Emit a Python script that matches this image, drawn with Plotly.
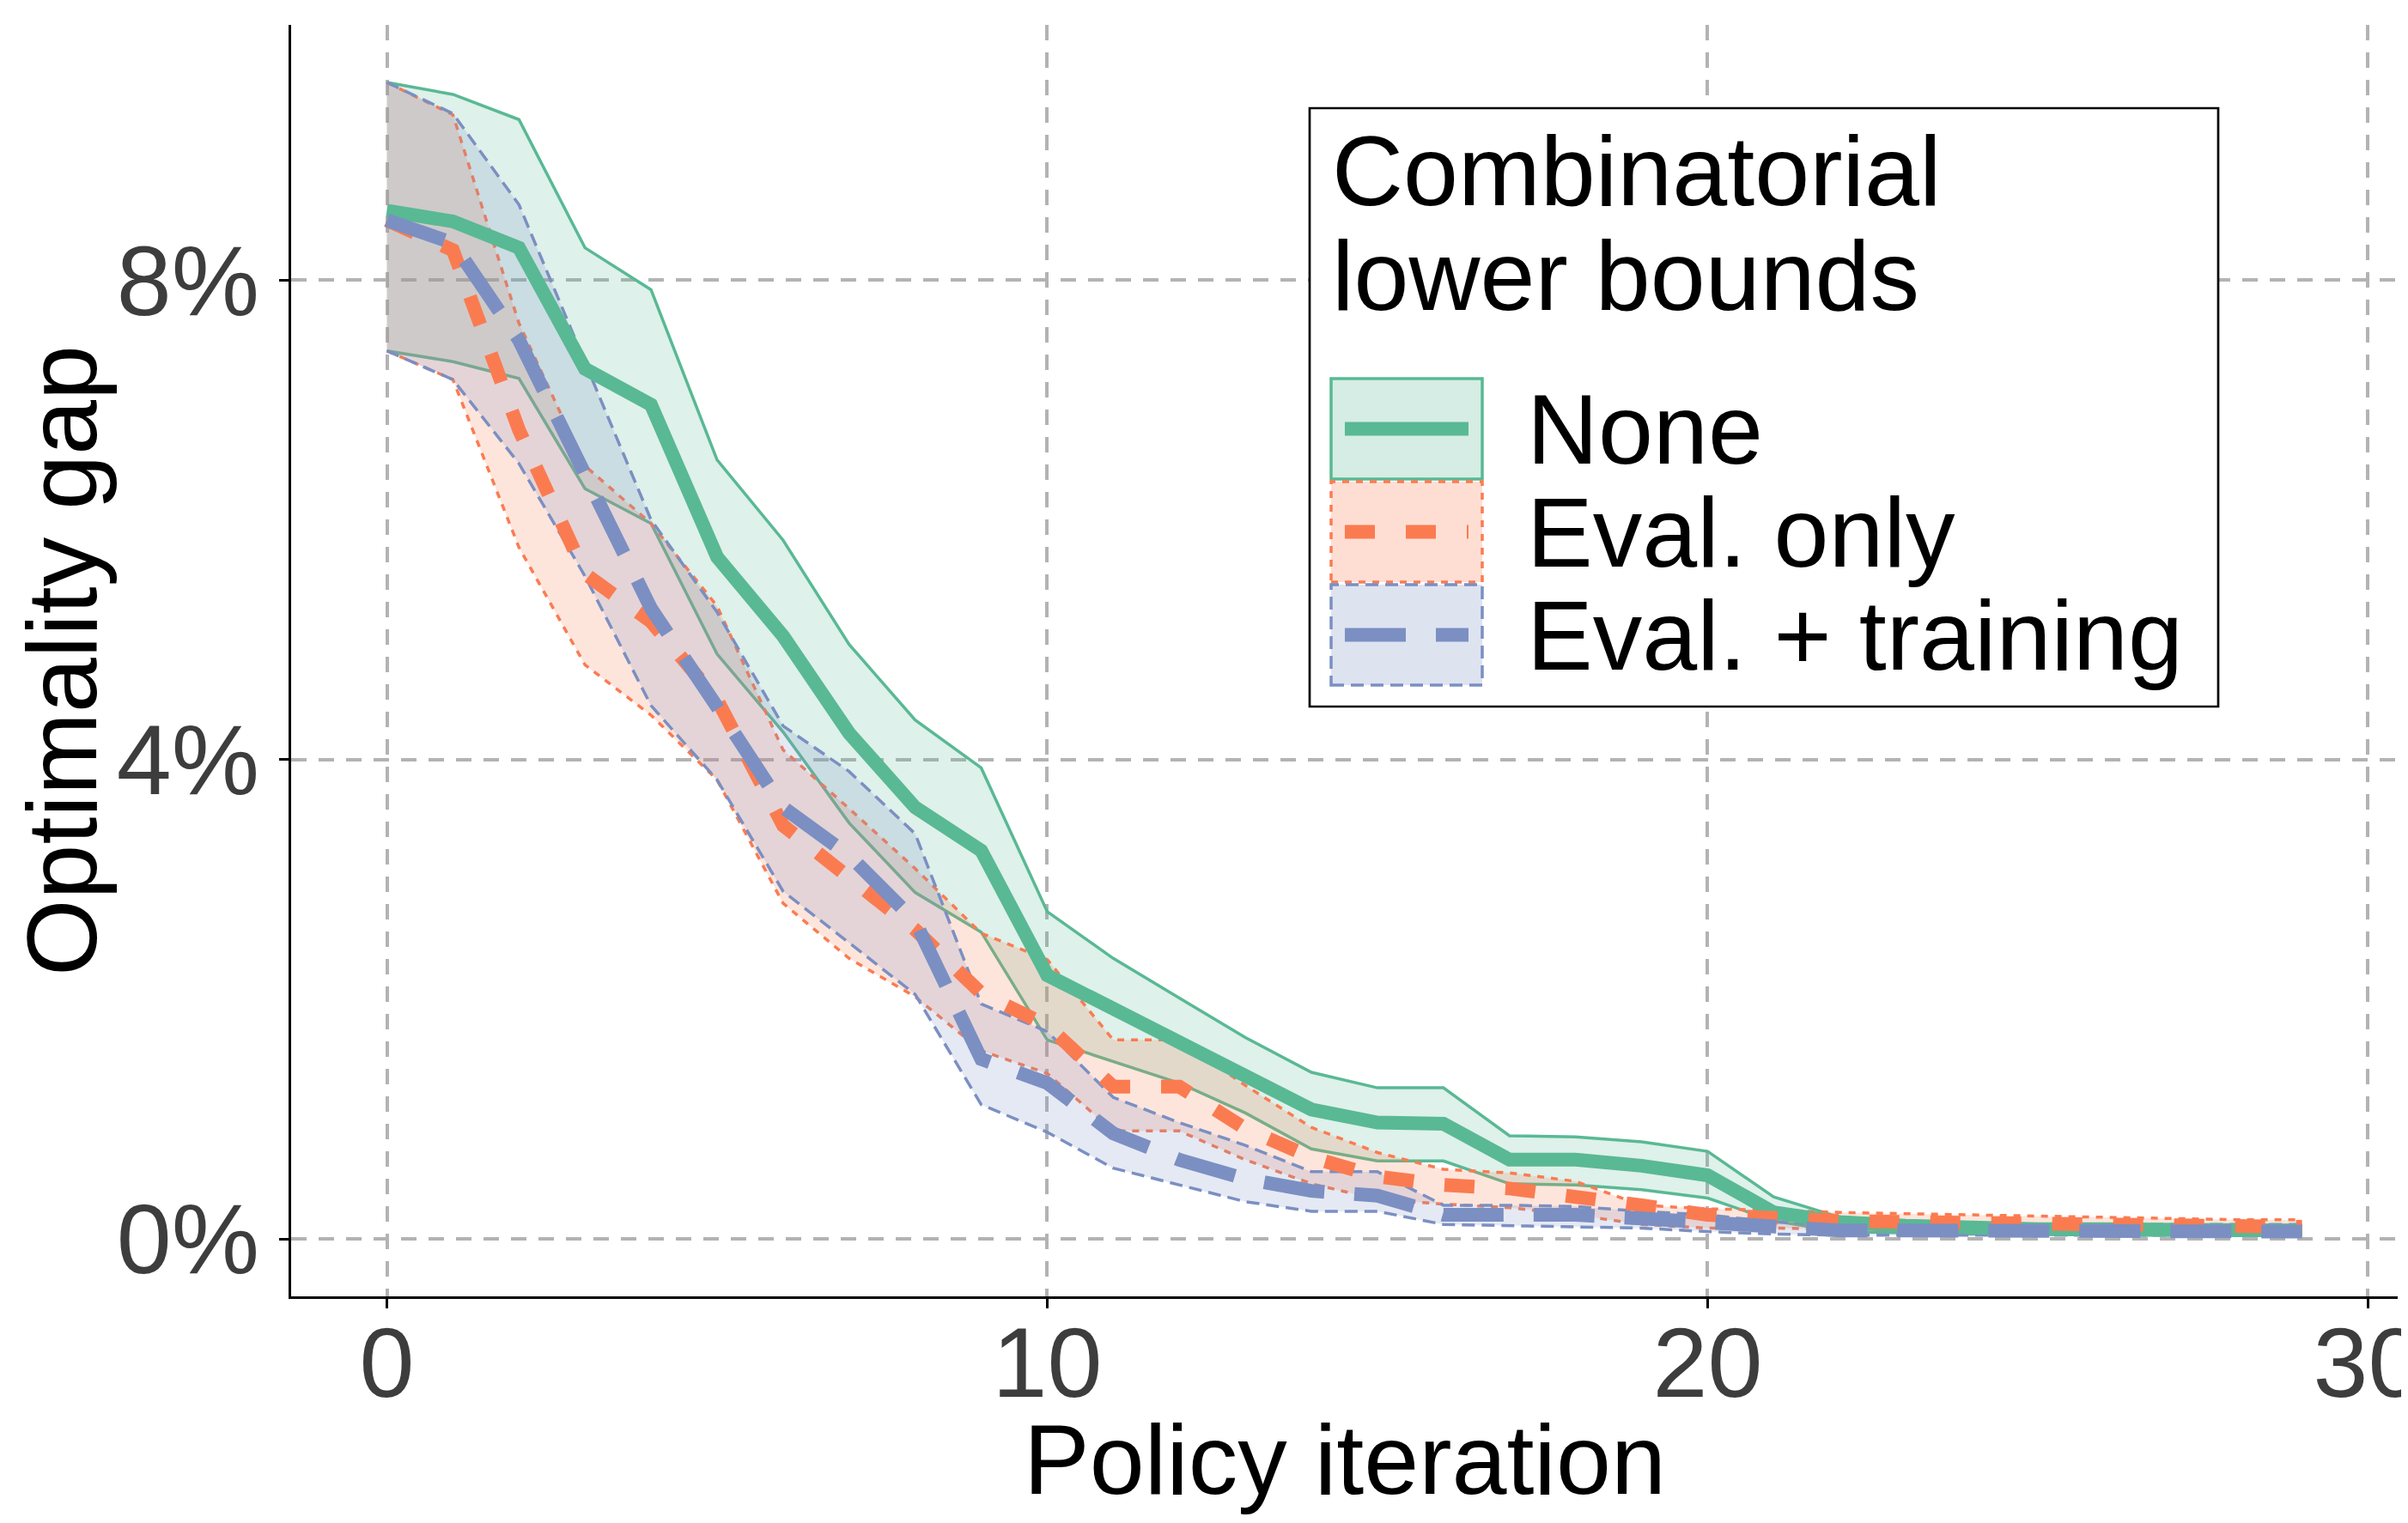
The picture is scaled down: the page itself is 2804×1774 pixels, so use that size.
import plotly.graph_objects as go

# policy iterations 0..29
iterations = list(range(30))

# optimality gap in %
none_mean = [8.58, 8.49, 8.27, 7.26, 6.96, 5.69, 5.03, 4.22, 3.60, 3.24,
             2.20, 1.92, 1.65, 1.35, 1.08, 0.97, 0.96, 0.66, 0.66, 0.61,
             0.53, 0.22, 0.14, 0.11, 0.09, 0.08, 0.08, 0.07, 0.07, 0.07]
none_upper = [9.65, 9.55, 9.34, 8.27, 7.92, 6.50, 5.83, 4.96, 4.33, 3.93,
              2.73, 2.34, 2.01, 1.68, 1.39, 1.26, 1.26, 0.86, 0.85, 0.81,
              0.73, 0.35, 0.18, 0.15, 0.13, 0.12, 0.11, 0.11, 0.10, 0.10]
none_lower = [7.41, 7.32, 7.18, 6.26, 5.97, 4.88, 4.23, 3.47, 2.89, 2.56,
              1.66, 1.48, 1.30, 1.05, 0.75, 0.65, 0.65, 0.46, 0.45, 0.41,
              0.34, 0.15, 0.06, 0.05, 0.04, 0.04, 0.03, 0.03, 0.03, 0.03]

eval_mean = [8.50, 8.25, 6.75, 5.55, 5.15, 4.50, 3.45, 3.00, 2.58, 2.05,
             1.78, 1.27, 1.27, 0.92, 0.68, 0.52, 0.45, 0.42, 0.36, 0.28,
             0.20, 0.17, 0.15, 0.14, 0.13, 0.12, 0.11, 0.11, 0.10, 0.10]
eval_upper = [9.65, 9.38, 7.64, 6.45, 5.97, 5.28, 4.08, 3.59, 3.09, 2.55,
              2.33, 1.66, 1.66, 1.28, 0.93, 0.72, 0.58, 0.55, 0.48, 0.28,
              0.25, 0.24, 0.22, 0.21, 0.20, 0.19, 0.18, 0.17, 0.16, 0.16]
eval_lower = [7.41, 7.17, 5.77, 4.79, 4.37, 3.83, 2.80, 2.34, 2.02, 1.57,
              1.38, 0.90, 0.90, 0.66, 0.46, 0.33, 0.29, 0.26, 0.20, 0.12,
              0.09, 0.09, 0.08, 0.07, 0.07, 0.06, 0.06, 0.05, 0.05, 0.05]

train_mean = [8.50, 8.31, 7.50, 6.40, 5.26, 4.44, 3.60, 3.20, 2.65, 1.50,
              1.30, 0.88, 0.66, 0.50, 0.40, 0.36, 0.20, 0.20, 0.20, 0.17,
              0.14, 0.09, 0.07, 0.07, 0.07, 0.06, 0.06, 0.06, 0.06, 0.06]
train_upper = [9.65, 9.39, 8.63, 7.32, 6.00, 5.23, 4.28, 3.90, 3.38, 1.96,
               1.73, 1.18, 0.97, 0.78, 0.56, 0.56, 0.28, 0.28, 0.27, 0.23,
               0.20, 0.14, 0.12, 0.12, 0.12, 0.12, 0.12, 0.12, 0.12, 0.12]
train_lower = [7.41, 7.17, 6.47, 5.53, 4.45, 3.83, 2.90, 2.47, 2.04, 1.12,
               0.89, 0.59, 0.45, 0.31, 0.23, 0.23, 0.12, 0.11, 0.10, 0.09,
               0.06, 0.04, 0.03, 0.03, 0.03, 0.03, 0.03, 0.03, 0.03, 0.03]

labels = ["None", "Eval. only", "Eval. + training"]
legend_title = ["Combinatorial", "lower bounds"]
x_ticks = [0, 10, 20, 30]
y_ticks = [0, 4, 8]

groups = [
    dict(name=labels[0], mean=none_mean, upper=none_upper, lower=none_lower,
         color="#59b994", rgb="89,185,148", dash="solid", bdash="solid"),
    dict(name=labels[1], mean=eval_mean, upper=eval_upper, lower=eval_lower,
         color="#fb7b51", rgb="251,123,81", dash="35px,36px", bdash="8px,8px"),
    dict(name=labels[2], mean=train_mean, upper=train_upper, lower=train_lower,
         color="#7b8fc2", rgb="123,143,194", dash="71px,35px", bdash="15px,8px"),
]

FONT = "Liberation Sans, Arial, sans-serif"
W, H = 2804, 1774
L, R, T, B = 331, 2784, 21, 1502  # plot area in pixels


def px_x(p):
    return (p - L) / (R - L)


def px_y(p):
    return (B - p) / (B - T)


fig = go.Figure()

# ribbons with their outlines
for g in groups:
    fig.add_trace(go.Scatter(x=iterations, y=g["lower"], mode="lines",
                             line=dict(color=g["color"], width=3.5, dash=g["bdash"]),
                             showlegend=False, hoverinfo="skip"))
    fig.add_trace(go.Scatter(x=iterations, y=g["upper"], mode="lines",
                             line=dict(color=g["color"], width=3.5, dash=g["bdash"]),
                             fill="tonexty", fillcolor="rgba(%s,0.2)" % g["rgb"],
                             showlegend=False, hoverinfo="skip"))

# mean lines on top
for g in groups:
    fig.add_trace(go.Scatter(x=iterations, y=g["mean"], mode="lines", name=g["name"],
                             line=dict(color=g["color"], width=16, dash=g["dash"]),
                             showlegend=False))

# hand-drawn legend, ggplot style
shapes = [dict(type="rect", xref="paper", yref="paper",
               x0=px_x(1517), x1=px_x(2575), y0=px_y(815), y1=px_y(118),
               line=dict(color="black", width=2.7), fillcolor="white", layer="above")]
annotations = []
for k, line in enumerate(legend_title):
    annotations.append(dict(text=line, xref="paper", yref="paper",
                            x=px_x(1541), y=px_y(191 + 122 * k),
                            xanchor="left", yanchor="middle", showarrow=False,
                            font=dict(family=FONT, size=115, color="black")))
key_top = 433
key_h = 120
for k, g in enumerate(groups):
    y0 = key_top + k * key_h
    y1 = y0 + key_h - 3
    shapes.append(dict(type="rect", xref="paper", yref="paper",
                       x0=px_x(1542), x1=px_x(1718), y0=px_y(y1), y1=px_y(y0),
                       line=dict(color=g["color"], width=3.5, dash=g["bdash"]),
                       fillcolor="rgba(%s,0.25)" % g["rgb"], layer="above"))
    shapes.append(dict(type="line", xref="paper", yref="paper",
                       x0=px_x(1558), x1=px_x(1702),
                       y0=px_y((y0 + y1) / 2), y1=px_y((y0 + y1) / 2),
                       line=dict(color=g["color"], width=16, dash=g["dash"]),
                       layer="above"))
    annotations.append(dict(text=g["name"], xref="paper", yref="paper",
                            x=px_x(1768), y=px_y((y0 + y1) / 2),
                            xanchor="left", yanchor="middle", showarrow=False,
                            font=dict(family=FONT, size=115, color="black")))

# x axis title placed by hand
annotations.append(dict(text="Policy iteration", xref="paper", yref="paper",
                        x=0.5, y=px_y(1692), xanchor="center", yanchor="middle",
                        showarrow=False,
                        font=dict(family=FONT, size=115, color="black")))

fig.update_layout(
    width=W, height=H, autosize=False,
    margin=dict(l=L, r=W - R, t=T, b=H - B),
    plot_bgcolor="white", paper_bgcolor="white",
    font=dict(family=FONT, size=115, color="black"),
    shapes=shapes, annotations=annotations,
    showlegend=False,
)

fig.update_xaxes(
    range=[-1.45, 30.45], tickvals=x_ticks, ticktext=[str(v) for v in x_ticks],
    showline=True, linecolor="black", linewidth=3, mirror=False,
    ticks="outside", ticklen=11, tickwidth=3, tickcolor="black",
    tickfont=dict(family=FONT, size=115, color="#3d3d3d"),
    ticklabeloverflow="allow", ticklabelstandoff=-35,
    showgrid=True, gridcolor="#b3b3b3", gridwidth=4, griddash="18px,14px",
    zeroline=False, automargin=False,
)
fig.update_yaxes(
    range=[-0.48, 10.13], tickvals=y_ticks, ticktext=["%d%%" % v for v in y_ticks],
    showline=True, linecolor="black", linewidth=3, mirror=False,
    ticks="outside", ticklen=11, tickwidth=3, tickcolor="black",
    tickfont=dict(family=FONT, size=115, color="#3d3d3d"),
    showgrid=True, gridcolor="#b3b3b3", gridwidth=4, griddash="18px,14px",
    zeroline=False, automargin=False,
    title=dict(text="Optimality gap", standoff=15,
               font=dict(family=FONT, size=115, color="black")),
)

fig.write_html("out.html")
